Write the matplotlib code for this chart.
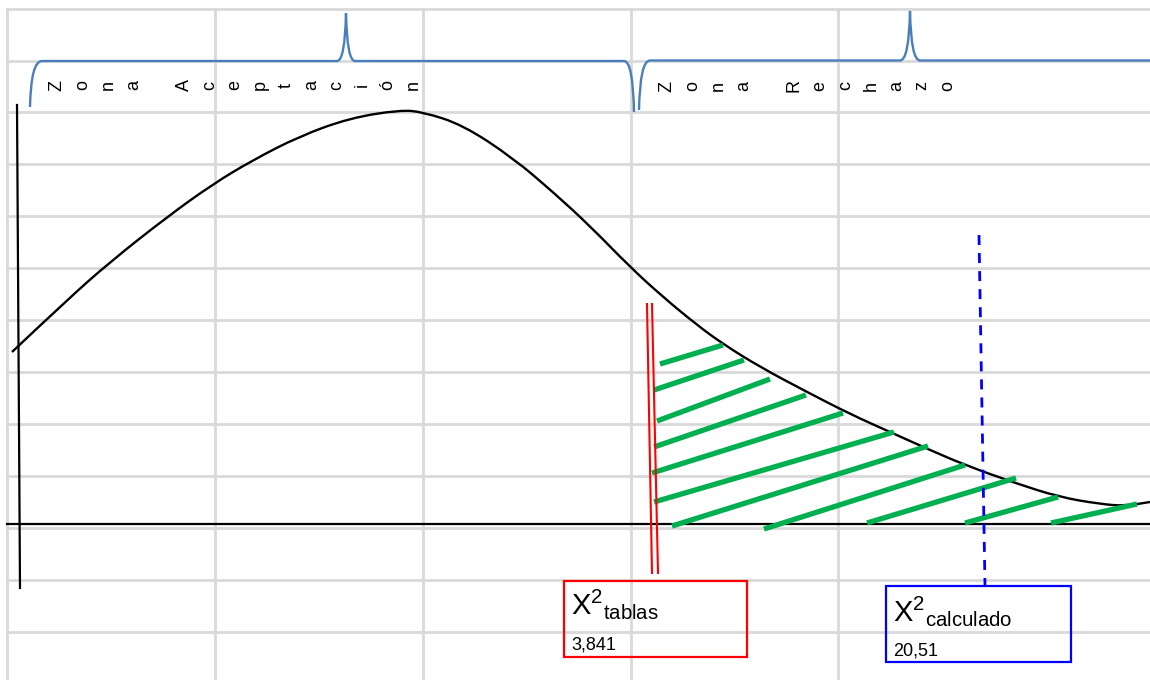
import matplotlib.pyplot as plt
import numpy as np
from matplotlib.path import Path
from matplotlib.patches import PathPatch, Rectangle

plt.rcParams['font.family'] = ['Liberation Sans', 'DejaVu Sans']
plt.rcParams['mathtext.default'] = 'regular'

# sheet grid (pixel positions of the cell borders)
grid_x = [7, 215, 423, 631, 838]
grid_y = [8.5, 60.5, 112.4, 164.4, 216.3, 268.3, 320.2, 372.2, 424.1, 476.1, 528, 580, 632]

# chi-square like curve
curve_x = [12, 67, 110, 167, 213, 253, 300, 350, 400, 423, 463, 513, 553, 590, 630,
           663, 697, 723, 760, 807, 850, 890, 930, 965, 1015, 1059, 1100, 1125, 1150]
curve_y = [352, 300, 262, 217, 184, 160, 136, 118, 110, 112, 125, 158, 192, 226, 267,
           297, 325, 344, 367, 392, 414, 432, 450, 465, 483, 497, 504, 506, 502]

# green hatch strokes in the rejection zone (x0, y0, x1, y1)
hatch = [(660, 364, 723, 345), (654, 390, 744, 360), (657, 421, 770, 379),
         (654, 447, 806, 395), (652, 473, 843, 413), (654, 502, 894, 432),
         (672, 526, 928, 446), (764, 529, 965, 465), (867, 523, 1016, 478),
         (965, 523, 1058, 497), (1051, 523, 1137, 504)]

zona1 = "Zona Aceptación"
zona2 = "Zona Rechazo"
label_tab = r'$X^{2}{}_{tablas}$'
label_calc = r'$X^{2}{}_{calculado}$'
value_tab = "3,841"
value_calc = "20,51"

fig = plt.figure(figsize=(11.5, 6.8), dpi=100)
ax = fig.add_axes([0, 0, 1, 1])
ax.set_xlim(0, 1150)
ax.set_ylim(680, 0)
ax.axis('off')

# grid
for gx in grid_x:
    ax.plot([gx, gx], [grid_y[0], 680], color='#d9d9d9', lw=2, zorder=0)
for gy in grid_y:
    ax.plot([grid_x[0], 1150], [gy, gy], color='#d9d9d9', lw=2, zorder=0)

# axes lines
ax.plot([17, 20], [105, 588], color='black', lw=1.6)
ax.plot([7, 1150], [524, 524], color='black', lw=1.6)

# smooth curve through the read points
pts = np.column_stack([curve_x, curve_y]).astype(float)
verts = [pts[0]]
codes = [Path.MOVETO]
for i in range(1, len(pts) - 1):
    verts += [pts[i], (pts[i] + pts[i + 1]) / 2]
    codes += [Path.CURVE3, Path.CURVE3]
verts.append(pts[-1])
codes.append(Path.LINETO)
ax.add_patch(PathPatch(Path(verts, codes), fill=False, color='black', lw=1.7))

# hatching
for x0, y0, x1, y1 in hatch:
    ax.plot([x0, x1], [y0, y1], color='#00b050', lw=3.8, solid_capstyle='butt')

# critical value (double red line)
ax.plot([647, 652], [304, 573], color='red', lw=1.5)
ax.plot([652, 658], [304, 573], color='red', lw=1.5)

# calculated value (blue dashed)
ax.plot([979, 985], [235, 586], color='blue', lw=2, dashes=(3.6, 2.9))

# braces
C3, L, M = Path.CURVE3, Path.LINETO, Path.MOVETO
brace1 = Path([(30, 107), (31, 61), (42, 61), (337, 61), (345, 61), (346, 13),
               (347, 61), (355, 61), (624, 61), (633, 61), (634, 112)],
              [M, C3, C3, L, C3, C3, C3, C3, L, C3, C3])
brace2 = Path([(639, 110), (640, 60.5), (650, 60.5), (900, 60.5), (909, 60.5), (910, 11),
               (911, 60.5), (920, 60.5), (1150, 60.5)],
              [M, C3, C3, L, C3, C3, C3, C3, L])
for b in (brace1, brace2):
    ax.add_patch(PathPatch(b, fill=False, color='#4a7ebb', lw=1.7))

# stacked zone labels
for i, ch in enumerate(zona1):
    ax.text(57 + i * 25.43, 85, ch, rotation=90, ha='center', va='center', fontsize=13)
for i, ch in enumerate(zona2):
    ax.text(667 + i * 25.5, 86, ch, rotation=90, ha='center', va='center', fontsize=13)

# value boxes
ax.add_patch(Rectangle((564, 581), 183, 76, fill=False, ec='red', lw=1.6))
ax.text(571, 614, label_tab, fontsize=21, va='baseline')
ax.text(571, 650, value_tab, fontsize=13, va='baseline')

ax.add_patch(Rectangle((886, 586), 185, 76, fill=False, ec='blue', lw=1.6))
ax.text(893, 621, label_calc, fontsize=21, va='baseline')
ax.text(893, 656, value_calc, fontsize=13, va='baseline')

fig.savefig('out.png', dpi=100)
